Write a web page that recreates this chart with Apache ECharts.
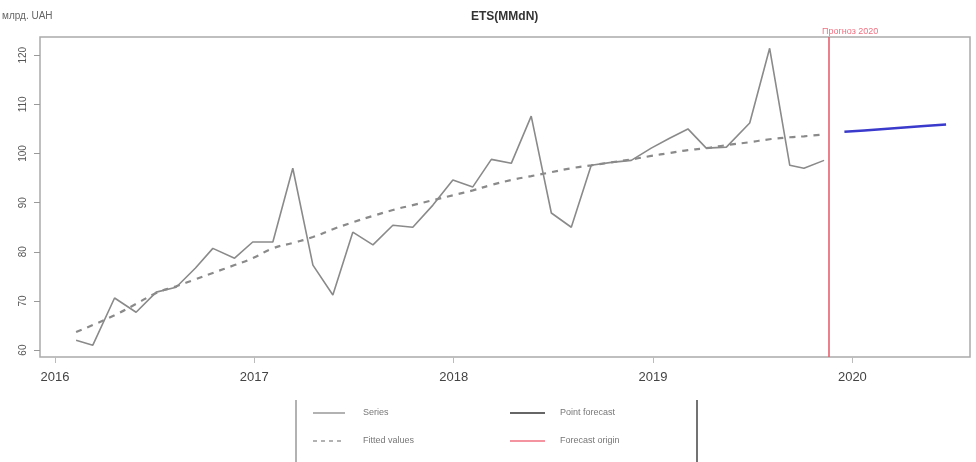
<!DOCTYPE html>
<html><head><meta charset="utf-8">
<script src="https://cdn.jsdelivr.net/npm/echarts@6/dist/echarts.min.js"></script>
<style>html,body{margin:0;padding:0;background:#fff}#c{width:976px;height:462px}</style>
</head><body><div id="c"></div>
<script>
// time stamps (decimal years) of in-sample observations
const times = [2016.106,2016.190,2016.299,2016.407,2016.508,2016.608,2016.705,2016.792,2016.901,2016.992,
  2017.093,2017.193,2017.294,2017.394,2017.494,2017.595,2017.695,2017.795,2017.896,2017.996,
  2018.096,2018.189,2018.289,2018.389,2018.490,2018.590,2018.690,2018.791,2018.891,2018.991,
  2019.083,2019.175,2019.267,2019.368,2019.485,2019.585,2019.686,2019.757,2019.858];
const seriesValues = [62.0,61.0,70.6,67.7,71.8,72.8,76.7,80.7,78.7,82.0,
  82.0,97.0,77.3,71.2,84.0,81.4,85.4,85.0,89.5,94.6,
  93.2,98.8,98.0,107.6,87.9,85.0,97.6,98.2,98.6,101.1,
  103.1,105.0,101.1,101.3,106.2,121.4,97.6,97.0,98.6];
const fittedValues = [63.7,65.1,67.1,69.4,71.6,73.0,74.4,75.7,77.3,78.7,
  80.7,81.8,83.0,84.6,86.0,87.3,88.5,89.5,90.5,91.5,
  92.5,93.6,94.6,95.4,96.2,97.0,97.6,98.2,98.8,99.5,
  100.1,100.7,101.1,101.7,102.3,102.9,103.3,103.5,103.9];
const forecastTimes = [2019.96,2020.06,2020.16,2020.26,2020.36,2020.47];
const forecastValues = [104.4,104.7,105.0,105.3,105.6,105.9];
const forecastOrigin = 2019.875;
const xTicks = [2016,2017,2018,2019,2020];
const yTicks = [60,70,80,90,100,110,120];
const legendLabels = ['Series','Fitted values','Point forecast','Forecast origin'];
const titleText = 'ETS(MMdN)';
const yName = 'млрд. UAH';
const originLabel = 'Прогноз 2020';

const pair = (t, v) => t.map((x, i) => [x, v[i]]);

const chart = echarts.init(document.getElementById('c'), null, {renderer: 'canvas'});
const gridL = 40, gridR = 6, gridT = 37, gridB = 105;
chart.setOption({
  animation: false,
  backgroundColor: '#fff',
  title: {text: titleText, left: 466, top: 6, textStyle: {fontSize: 12, fontWeight: 'bold', color: '#333', fontFamily: 'Liberation Sans, Arial'}},
  grid: {left: gridL, right: gridR, top: gridT, bottom: gridB, show: true, borderColor: '#aaa', borderWidth: 1.5},
  xAxis: {
    type: 'value', min: 2015.925, max: 2020.59,
    axisLine: {show: false}, splitLine: {show: false},
    axisTick: {show: true, customValues: xTicks, length: 6, lineStyle: {color: '#bbb'}},
    axisLabel: {customValues: xTicks, margin: 14, fontSize: 13, color: '#444', fontFamily: 'Liberation Sans, Arial',
      formatter: v => String(Math.round(v))}
  },
  yAxis: {
    type: 'value', min: 58.6, max: 123.7,
    axisLine: {show: false}, splitLine: {show: false},
    axisTick: {show: true, customValues: yTicks, length: 6, lineStyle: {color: '#999'}},
    axisLabel: {customValues: yTicks, rotate: 90, margin: 12, fontSize: 10, color: '#555', fontFamily: 'Liberation Sans, Arial'}
  },
  graphic: [
    {type: 'text', left: 2, top: 11, style: {text: yName, fontSize: 10, fill: '#666', fontFamily: 'Liberation Sans, Arial'}},
    {type: 'text', left: 822, top: 27, style: {text: originLabel, fontSize: 9, fill: '#f07080', fontFamily: 'Liberation Sans, Arial'}},
    {type: 'line', shape: {x1: 296, y1: 400, x2: 296, y2: 462}, style: {stroke: '#999', lineWidth: 1.5}},
    {type: 'line', shape: {x1: 697, y1: 400, x2: 697, y2: 462}, style: {stroke: '#444', lineWidth: 1.5}},
    {type: 'line', shape: {x1: 313, y1: 413, x2: 345, y2: 413}, style: {stroke: '#999', lineWidth: 1.5}},
    {type: 'line', shape: {x1: 313, y1: 441, x2: 345, y2: 441}, style: {stroke: '#999', lineWidth: 1.5, lineDash: [4, 4]}},
    {type: 'line', shape: {x1: 510, y1: 413, x2: 545, y2: 413}, style: {stroke: '#333', lineWidth: 1.5}},
    {type: 'line', shape: {x1: 510, y1: 441, x2: 545, y2: 441}, style: {stroke: '#f07080', lineWidth: 1.5}},
    {type: 'text', left: 363, top: 408, style: {text: legendLabels[0], fontSize: 9, fill: '#777', fontFamily: 'Liberation Sans, Arial'}},
    {type: 'text', left: 363, top: 436, style: {text: legendLabels[1], fontSize: 9, fill: '#777', fontFamily: 'Liberation Sans, Arial'}},
    {type: 'text', left: 560, top: 408, style: {text: legendLabels[2], fontSize: 9, fill: '#777', fontFamily: 'Liberation Sans, Arial'}},
    {type: 'text', left: 560, top: 436, style: {text: legendLabels[3], fontSize: 9, fill: '#777', fontFamily: 'Liberation Sans, Arial'}}
  ],
  series: [
    {name: legendLabels[0], type: 'line', data: pair(times, seriesValues), showSymbol: false,
     lineStyle: {color: '#8a8a8a', width: 1.6},
     markLine: {silent: true, symbol: 'none', label: {show: false},
       lineStyle: {color: '#e86070', width: 1.6, type: 'solid'}, data: [{xAxis: forecastOrigin}]}},
    {name: legendLabels[1], type: 'line', data: pair(times, fittedValues), showSymbol: false, smooth: true,
     lineStyle: {color: '#8a8a8a', width: 2.2, type: [6, 6]}},
    {name: legendLabels[2], type: 'line', data: pair(forecastTimes, forecastValues), showSymbol: false,
     lineStyle: {color: '#3a3acc', width: 2.5}}
  ]
});
</script></body></html>
